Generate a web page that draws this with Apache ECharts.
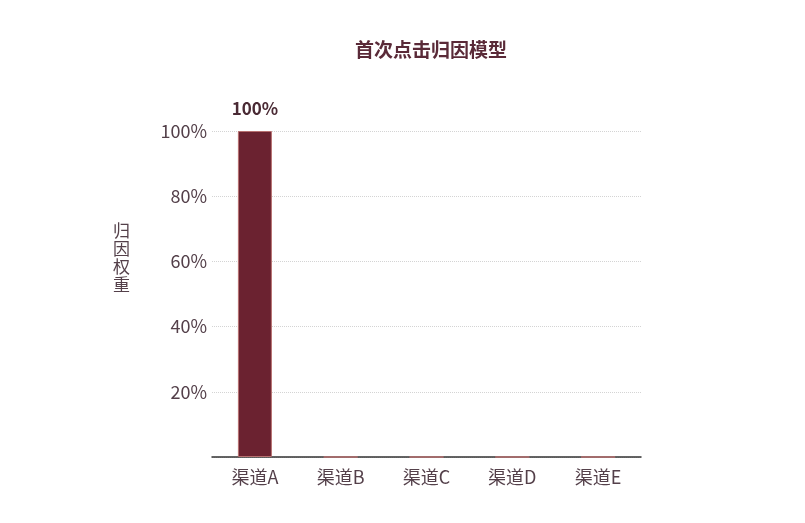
<!DOCTYPE html>
<html><head><meta charset="utf-8">
<script src="https://cdn.jsdelivr.net/npm/echarts@6/dist/echarts.min.js"></script>
<style>html,body{margin:0;padding:0;background:#fff}#c{width:805px;height:523px}</style>
</head><body><div id="c"></div>
<script>
const categories = ['渠道A','渠道B','渠道C','渠道D','渠道E'];
const weights = [100, 0, 0, 0, 0];
const yTicks = [20, 40, 60, 80, 100];

const chart = echarts.init(document.getElementById('c'));
chart.setOption({
  backgroundColor: '#fff',
  title: {
    text: '首次点击归因模型', left: 350, top: 35,
    textStyle: { fontFamily: 'Noto Sans CJK SC', fontSize: 19, fontWeight: 'bold', color: '#5a2a38' }
  },
  grid: { left: 212, right: 164, top: 131, bottom: 66 },
  xAxis: {
    type: 'category', data: categories,
    axisLine: { lineStyle: { color: '#333', width: 1.5 } },
    axisTick: { show: false },
    axisLabel: { fontFamily: 'Noto Sans CJK SC', fontSize: 18, color: '#54404a', margin: 11 }
  },
  yAxis: {
    type: 'value', min: 0, max: 100, interval: 20,
    name: '归\n因\n权\n重\n \n \n \n ', nameLocation: 'middle', nameGap: 82, nameRotate: 0,
    nameTextStyle: { fontFamily: 'Noto Sans CJK SC', fontSize: 17, color: '#54404a', lineHeight: 18 },
    axisLine: { show: false }, axisTick: { show: false },
    axisLabel: {
      fontFamily: 'Noto Sans CJK SC', fontSize: 18, color: '#54404a', margin: 5,
      formatter: v => yTicks.includes(v) ? v + '%' : ''
    },
    splitLine: { lineStyle: { color: '#d4d4d4', type: 'dotted', width: 1 } }
  },
  series: [{
    type: 'bar', data: weights, barWidth: 34,
    itemStyle: { color: '#6b2230', borderColor: '#b87070', borderWidth: 1 },
    label: {
      show: true, position: 'top', distance: 14,
      formatter: p => p.value > 0 ? p.value + '%' : '',
      fontFamily: 'Noto Sans CJK SC', fontSize: 17, fontWeight: 'bold', color: '#4a2a34'
    }
  }]
});
</script></body></html>
